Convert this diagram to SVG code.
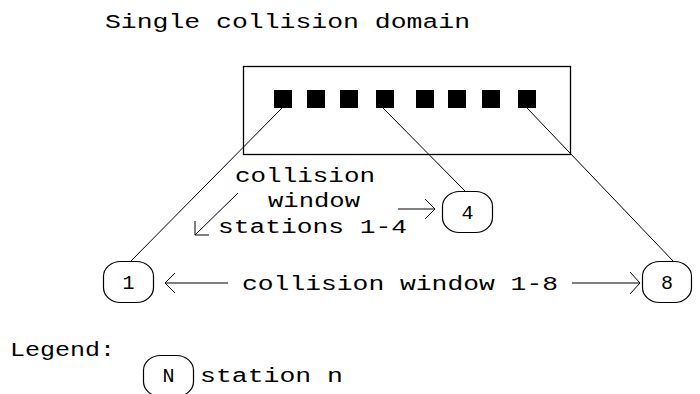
<svg xmlns="http://www.w3.org/2000/svg" width="700" height="394" viewBox="0 0 700 394">
<style>
text{font-family:"Liberation Mono","DejaVu Sans Mono",monospace;font-size:20px;fill:#000}
.c{text-anchor:middle}
.ln{stroke:#000;stroke-width:1;fill:none}
.st{fill:#fff;stroke:#000;stroke-width:1.2}
.sq{fill:#000}
</style>
<rect width="700" height="394" fill="#fff"/>
<text x="105" y="28" textLength="365" lengthAdjust="spacingAndGlyphs">Single collision domain</text>
<g id="domain">
<rect x="243.5" y="66.5" width="327" height="88" fill="none" stroke="#000" stroke-width="1.3"/>
<rect class="sq" x="274" y="90" width="18" height="18"/>
<rect class="sq" x="307" y="90" width="18" height="18"/>
<rect class="sq" x="340" y="90" width="18" height="18"/>
<rect class="sq" x="376" y="90" width="18" height="18"/>
<rect class="sq" x="416" y="90" width="18" height="18"/>
<rect class="sq" x="448" y="90" width="18" height="18"/>
<rect class="sq" x="482" y="90" width="18" height="18"/>
<rect class="sq" x="518" y="90" width="18" height="18"/>
</g>
<g id="connectors">
<line class="ln" x1="282" y1="108" x2="131" y2="261"/>
<line class="ln" x1="383" y1="108" x2="465" y2="191"/>
<line class="ln" x1="527" y1="108" x2="674" y2="262"/>
<path class="ln" d="M238,193 L195,235 M195,221 L195,235 L209,235"/>
<path class="ln" d="M398,209 H435 M425,199 L435,209 L425,219"/>
<path class="ln" d="M228,283 H165 M175,273 L165,283 L175,293"/>
<path class="ln" d="M572,283 H640 M630,272 L640,283 L630,294"/>
</g>
<g id="labels">
<text x="235" y="182" textLength="140" lengthAdjust="spacingAndGlyphs">collision</text>
<text x="268" y="207" textLength="92" lengthAdjust="spacingAndGlyphs">window</text>
<text x="218" y="233" textLength="189" lengthAdjust="spacingAndGlyphs">stations 1-4</text>
<text x="242" y="290" textLength="316" lengthAdjust="spacingAndGlyphs">collision window 1-8</text>
</g>
<g id="station1">
<rect class="st" x="103.5" y="261.5" width="50" height="41" rx="17" ry="15"/>
<text class="c" x="128.5" y="289">1</text>
</g>
<g id="station4">
<rect class="st" x="442.5" y="191.5" width="50" height="41" rx="17" ry="15"/>
<text class="c" x="467.5" y="219">4</text>
</g>
<g id="station8">
<rect class="st" x="642.5" y="261.5" width="49" height="41" rx="17" ry="15"/>
<text class="c" x="667" y="289">8</text>
</g>
<g id="legend">
<text x="10" y="356" textLength="105" lengthAdjust="spacingAndGlyphs">Legend:</text>
<rect class="st" x="143.5" y="355.5" width="50" height="41" rx="17" ry="15"/>
<text class="c" x="168.5" y="382">N</text>
<text x="200" y="382" textLength="143" lengthAdjust="spacingAndGlyphs">station n</text>
</g>
</svg>
